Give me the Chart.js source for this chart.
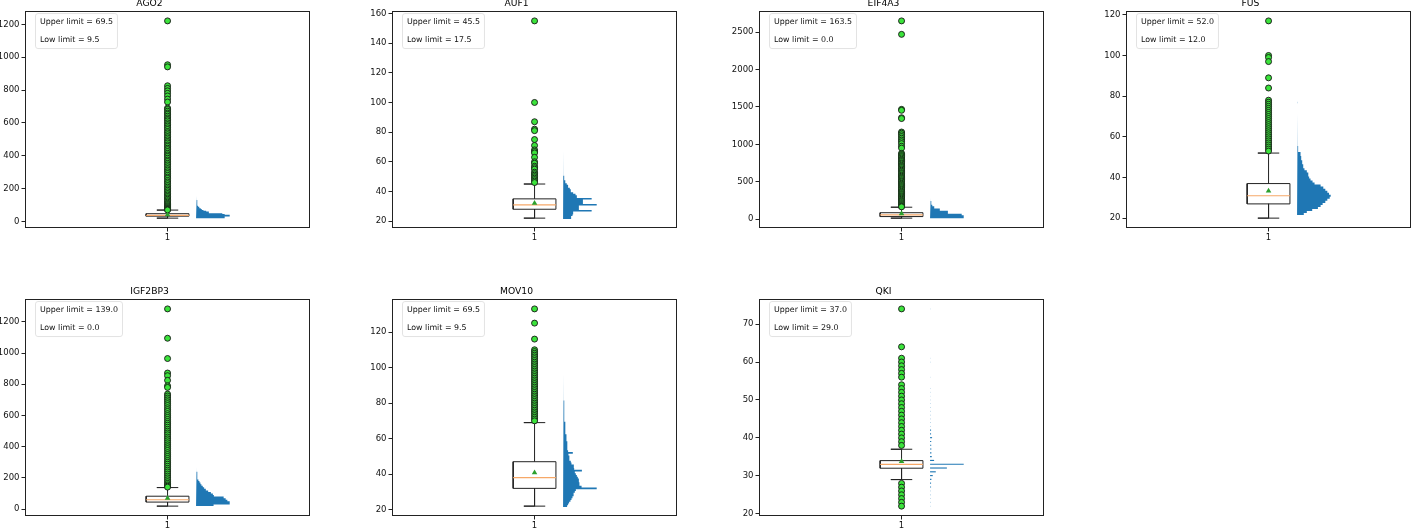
<!DOCTYPE html>
<html>
<head>
<meta charset="utf-8">
<script src="https://cdn.jsdelivr.net/npm/chart.js@4.4.1/dist/chart.umd.min.js"></script>
<style>
  body { margin: 0; background: #fff; overflow: hidden; width: 1416px; height: 528px; position: relative; }
  .panel { position: absolute; }
</style>
</head>
<body>
<div id="charts"></div>
<script>
// --- data ---
const names = ['AGO2', 'AUF1', 'EIF4A3', 'FUS', 'IGF2BP3', 'MOV10', 'QKI'];
const upperLimit = [69.5, 45.5, 163.5, 52.0, 139.0, 69.5, 37.0];
const lowLimit = [9.5, 17.5, 0.0, 12.0, 0.0, 9.5, 29.0];
const q1 = [32, 28, 35, 27, 45, 32, 32];
const medians = [37, 31, 58, 31, 60, 38, 33];
const q3 = [47, 35, 86.5, 37, 82.6, 47, 34];
const whiskerLow = [20, 22, 14, 20, 19, 22, 29];
const whiskerHigh = [69, 45, 160, 52, 138, 69, 37];
const means = [41, 32.1, 75, 33.4, 70, 40.8, 33.8];

const yTicks = [
  [0, 200, 400, 600, 800, 1000, 1200],
  [20, 40, 60, 80, 100, 120, 140, 160],
  [0, 500, 1000, 1500, 2000, 2500],
  [20, 40, 60, 80, 100, 120],
  [0, 200, 400, 600, 800, 1000, 1200],
  [20, 40, 60, 80, 100, 120],
  [20, 30, 40, 50, 60, 70]
];

const outliers = [
  [1221, 954, 941, 826, 810, 795, 780, 764, 745, 727, 690, 682, 671, 660, 652, 641, 630, 621, 612, 600, 590, 581,
   570, 560, 548, 539, 528, 517, 508, 497, 487, 478, 466, 457, 446, 437, 426, 415, 405, 396, 385, 374, 365, 354,
   344, 333, 322, 313, 302, 292, 281, 270, 262, 250, 240, 230, 219, 209, 199, 190, 180, 170, 161, 152, 143, 135,
   126, 118, 110, 103, 96, 90, 84, 79, 75, 72, 70],
  [155, 100, 87, 82, 81, 75, 71, 68, 67, 66, 63, 60, 59, 57, 56, 55, 53, 52, 51, 50, 49, 48, 47, 46],
  [2650, 2470, 1468, 1455, 1356, 1345, 1165, 1150, 1128, 1105, 1082, 1058, 1035, 1010, 975, 950, 880, 865, 850,
   835, 818, 800, 785, 770, 752, 738, 720, 705, 690, 672, 655, 640, 622, 608, 590, 575, 560, 545, 528, 512, 498,
   480, 466, 450, 435, 420, 404, 390, 373, 358, 342, 328, 312, 298, 283, 268, 252, 238, 222, 208, 195, 182, 172, 165],
  [117, 100, 99, 97, 89, 84, 78, 77, 76, 75, 74, 73, 72, 71, 70, 69, 68, 67, 66, 65, 64, 63, 62, 61, 60, 59, 58,
   57, 56, 55, 54, 53],
  [1283, 1095, 965, 872, 855, 825, 790, 780, 737, 725, 712, 700, 688, 676, 664, 650, 638, 626, 612, 600, 588, 575,
   562, 550, 538, 525, 512, 500, 488, 476, 462, 450, 438, 425, 412, 400, 388, 376, 362, 350, 338, 325, 312, 300,
   288, 275, 262, 250, 238, 225, 212, 200, 188, 176, 165, 155, 147, 141],
  [133, 125, 116, 110, 109, 108, 107, 106, 105, 104, 103, 102, 101, 100, 99, 98, 97, 96, 95, 94, 93, 92, 91, 90,
   89, 88, 87, 86, 85, 84, 83, 82, 81, 80, 79, 78, 77, 76, 75, 74, 73, 72, 71, 70],
  [74, 64, 61, 60, 59, 58, 57, 56, 54, 53, 52, 51, 50, 49, 48, 47, 46, 45, 44, 43, 42, 41, 40, 39, 38,
   28, 27, 26, 25, 24, 23, 22]
];

// horizontal histograms (relative counts, 100 = tallest bin)
const histStart = [20, 21.5, 14, 21.5, 20, 21.5, 21.9];
const histStep = [5, 1, 10, 1, 10, 1, 1];
const histSize = [5, 1, 10, 1, 10, 1, 0.3];
const histCounts = [
  [85, 85, 100, 100, 85, 78, 38, 38, 30, 22, 17, 14, 11, 9, 6, 5, 4, 4, 3.5, 3.5, 3, 3, 2.5, 2.5, 2, 2, 1.5],
  [24, 24, 28, 30, 30, 85, 47, 47, 47, 100, 59, 59, 59, 85, 41, 41, 37, 30, 23, 23, 20, 15, 15, 11, 8, 6, 4,
   3.5, 3, 2.5, 2, 2, 1.5, 1.5, 1.2, 1.2, 1, 1, 0.8, 0.8, 0.6, 0.6, 0.5, 0.5, 0.5, 0.5],
  [100, 100, 100, 100, 94, 94, 53, 53, 53, 53, 29, 29, 29, 14, 12, 12, 8, 6, 5, 4, 4, 3, 3, 2.5, 2, 2, 1.5],
  [20, 29, 45, 62, 70, 76, 84, 90, 97, 100, 95, 90, 84, 78, 70, 52, 46, 40, 36, 34, 33, 29, 22, 19, 18, 16, 15,
   13, 12, 11, 10, 4, 3, 3, 2.5, 2.5, 2.5, 2, 2, 2, 2, 1.5, 1.5, 1.5, 1.5, 1.5, 1.2, 1.2, 1.2, 1, 0, 0, 0, 0, 0, 1],
  [52, 100, 100, 93, 88, 82, 53, 50, 44, 36, 29, 24, 20, 16, 13, 10, 7, 5, 4, 4, 3, 3, 2, 2, 1.5],
  [12, 15, 18, 22, 25, 28, 30, 32, 35, 38, 100, 55, 50, 48, 47, 47, 44, 41, 38, 35, 56, 33, 32, 32, 25, 23, 20,
   19, 18, 16, 29, 15, 14, 13, 13, 12, 12, 11, 11, 10, 9, 8, 8, 7, 7, 6, 6, 6, 5, 4, 4, 4, 4, 3.5, 3.5, 3.5, 3,
   3, 3, 3, 2.5, 2.5, 2.5, 2.5, 2, 2, 2, 2, 1.5, 1.5, 1.5, 1.5, 1, 1, 1],
  [2, 2, 2, 2.5, 2.5, 3, 3, 4, 8, 17, 50, 100, 12, 5, 4, 4, 3.5, 3.5, 6, 3, 3, 2.5, 2.5, 2.5, 2, 2, 2, 2, 2,
   1.5, 1.5, 1.5, 0, 0, 1.5, 0, 0, 0, 1.5, 1.5, 0, 0, 0, 0, 0, 0, 0, 0, 0, 0, 0, 0, 1.5]
];

// --- layout ---
const panelLeft = [25, 392, 759, 1126, 25, 392, 759];
const panelTop = [11, 11, 11, 11, 299, 299, 299];
const AREA_W = 289, AREA_H = 217, Y_AXIS_W = 40, X_AXIS_H = 20, TITLE_H = 13;
const HIST_BASE = 1.1, HIST_MAX_W = 0.118, BOX_HALF = 0.075, CAP_HALF = 0.0375;

Chart.defaults.font.family = '"DejaVu Sans", sans-serif';
Chart.defaults.font.size = 8.5;
Chart.defaults.color = '#111';

// outline of the histogram: one closed run per block of touching bins,
// runs separated by a null point so each run is filled on its own
function histPolygon(i) {
  const pts = [];
  let prevTop = null;
  histCounts[i].forEach((c, k) => {
    if (!c) return;
    const y0 = histStart[i] + k * histStep[i];
    const y1 = y0 + histSize[i];
    const w = HIST_BASE + c / 100 * HIST_MAX_W;
    if (prevTop !== null && Math.abs(prevTop - y0) > 1e-9) {
      pts.push({ x: HIST_BASE, y: prevTop }, { x: HIST_BASE, y: null });
      prevTop = null;
    }
    if (prevTop === null) pts.push({ x: HIST_BASE, y: y0 });
    pts.push({ x: w, y: y0 }, { x: w, y: y1 });
    prevTop = y1;
  });
  pts.push({ x: HIST_BASE, y: prevTop });
  return pts;
}

function yRange(i) {
  const vals = [whiskerLow[i], whiskerHigh[i], ...outliers[i]];
  const lo = Math.min(...vals), hi = Math.max(...vals), pad = (hi - lo) * 0.05;
  return [lo - pad, hi + pad];
}

const frameAndLegend = {
  id: 'frameAndLegend',
  afterDraw(chart, args, opts) {
    const { ctx, chartArea: a } = chart;
    ctx.save();
    // axes frame
    ctx.strokeStyle = '#222';
    ctx.lineWidth = 1;
    ctx.strokeRect(Math.round(a.left) + 0.5, Math.round(a.top) + 0.5,
      Math.round(a.right) - Math.round(a.left) - 1, Math.round(a.bottom) - Math.round(a.top) - 1);
    // limits box
    ctx.font = '7.9px "DejaVu Sans"';
    const tw = Math.max(...opts.lines.map(t => ctx.measureText(t).width));
    const bx = a.left + 10.5, by = a.top + 2.5, bw = tw + 9, bh = 35;
    ctx.beginPath();
    ctx.roundRect(bx, by, bw, bh, 2.5);
    ctx.fillStyle = 'rgba(255,255,255,0.8)';
    ctx.fill();
    ctx.strokeStyle = '#e3e3e3';
    ctx.stroke();
    ctx.fillStyle = '#111';
    ctx.textBaseline = 'middle';
    ctx.fillText(opts.lines[0], bx + 4.5, a.top + 10.7);
    ctx.fillText(opts.lines[1], bx + 4.5, a.top + 29);
    ctx.restore();
  }
};

function makeChart(i) {
  const div = document.createElement('div');
  div.className = 'panel';
  const w = Y_AXIS_W + AREA_W + 1, h = TITLE_H + AREA_H + X_AXIS_H;
  div.style.left = (panelLeft[i] - Y_AXIS_W) + 'px';
  div.style.top = (panelTop[i] - TITLE_H) + 'px';
  div.style.width = w + 'px';
  div.style.height = h + 'px';
  const canvas = document.createElement('canvas');
  canvas.width = w; canvas.height = h;
  canvas.style.width = w + 'px'; canvas.style.height = h + 'px';
  div.appendChild(canvas);
  document.getElementById('charts').appendChild(div);

  const [yMin, yMax] = yRange(i);
  const line = { showLine: true, pointRadius: 0, borderColor: '#222', borderWidth: 1, fill: false };

  new Chart(canvas, {
    type: 'scatter',
    data: {
      datasets: [
        { label: 'mean', data: [{ x: 1, y: means[i] }], pointStyle: 'triangle', pointRadius: 3.2,
          backgroundColor: '#2ca02c', borderColor: '#2ca02c', borderWidth: 0 },
        { label: 'median', ...line, borderColor: '#f6a868', borderWidth: 1.2,
          data: [{ x: 1 - BOX_HALF, y: medians[i] }, { x: 1 + BOX_HALF, y: medians[i] }] },
        { label: 'outliers', data: outliers[i].map(v => ({ x: 1, y: v })), pointRadius: 3,
          backgroundColor: '#3be33b', borderColor: '#151515', borderWidth: 0.9 },
        { label: 'upper whisker', ...line, data: [{ x: 1, y: q3[i] }, { x: 1, y: whiskerHigh[i] },
          { x: 1 - CAP_HALF, y: whiskerHigh[i] }, { x: 1 + CAP_HALF, y: whiskerHigh[i] }] },
        { label: 'lower whisker', ...line, data: [{ x: 1, y: q1[i] }, { x: 1, y: whiskerLow[i] },
          { x: 1 - CAP_HALF, y: whiskerLow[i] }, { x: 1 + CAP_HALF, y: whiskerLow[i] }] },
        { label: 'box', ...line, data: [{ x: 1 - BOX_HALF, y: q1[i] }, { x: 1 + BOX_HALF, y: q1[i] },
          { x: 1 + BOX_HALF, y: q3[i] }, { x: 1 - BOX_HALF, y: q3[i] }, { x: 1 - BOX_HALF, y: q1[i] }] },
        { label: 'histogram', showLine: true, spanGaps: false, pointRadius: 0, borderWidth: 0,
          borderColor: 'rgba(0,0,0,0)', backgroundColor: '#1f77b4', fill: 'shape', data: histPolygon(i) }
      ]
    },
    options: {
      responsive: false,
      animation: false,
      devicePixelRatio: 1,
      events: [],
      layout: { padding: { left: 0, right: 1, top: 0, bottom: 0 } },
      plugins: {
        legend: { display: false },
        tooltip: { enabled: false },
        title: { display: true, text: names[i], color: '#000',
          font: { size: 9.2, weight: 'normal' }, padding: { top: 0, bottom: 2 } },
        frameAndLegend: { lines: [`Upper limit = ${upperLimit[i].toFixed(1)}`, `Low limit = ${lowLimit[i].toFixed(1)}`] }
      },
      scales: {
        x: {
          type: 'linear', min: 0.5, max: 1.5,
          afterFit: s => { s.height = X_AXIS_H; },
          afterBuildTicks: s => { s.ticks = [{ value: 1 }]; },
          ticks: { callback: v => String(v), padding: 1, maxRotation: 0 },
          grid: { drawOnChartArea: false, drawTicks: true, tickLength: 3.5, tickColor: '#222' },
          border: { display: false }
        },
        y: {
          type: 'linear', min: yMin, max: yMax,
          afterFit: s => { s.width = Y_AXIS_W; },
          afterBuildTicks: s => { s.ticks = yTicks[i].map(v => ({ value: v })); },
          ticks: { callback: v => String(v), padding: 2 },
          grid: { drawOnChartArea: false, drawTicks: true, tickLength: 3.5, tickColor: '#222' },
          border: { display: false }
        }
      }
    },
    plugins: [frameAndLegend]
  });
}

names.forEach((_, i) => makeChart(i));
</script>
</body>
</html>
